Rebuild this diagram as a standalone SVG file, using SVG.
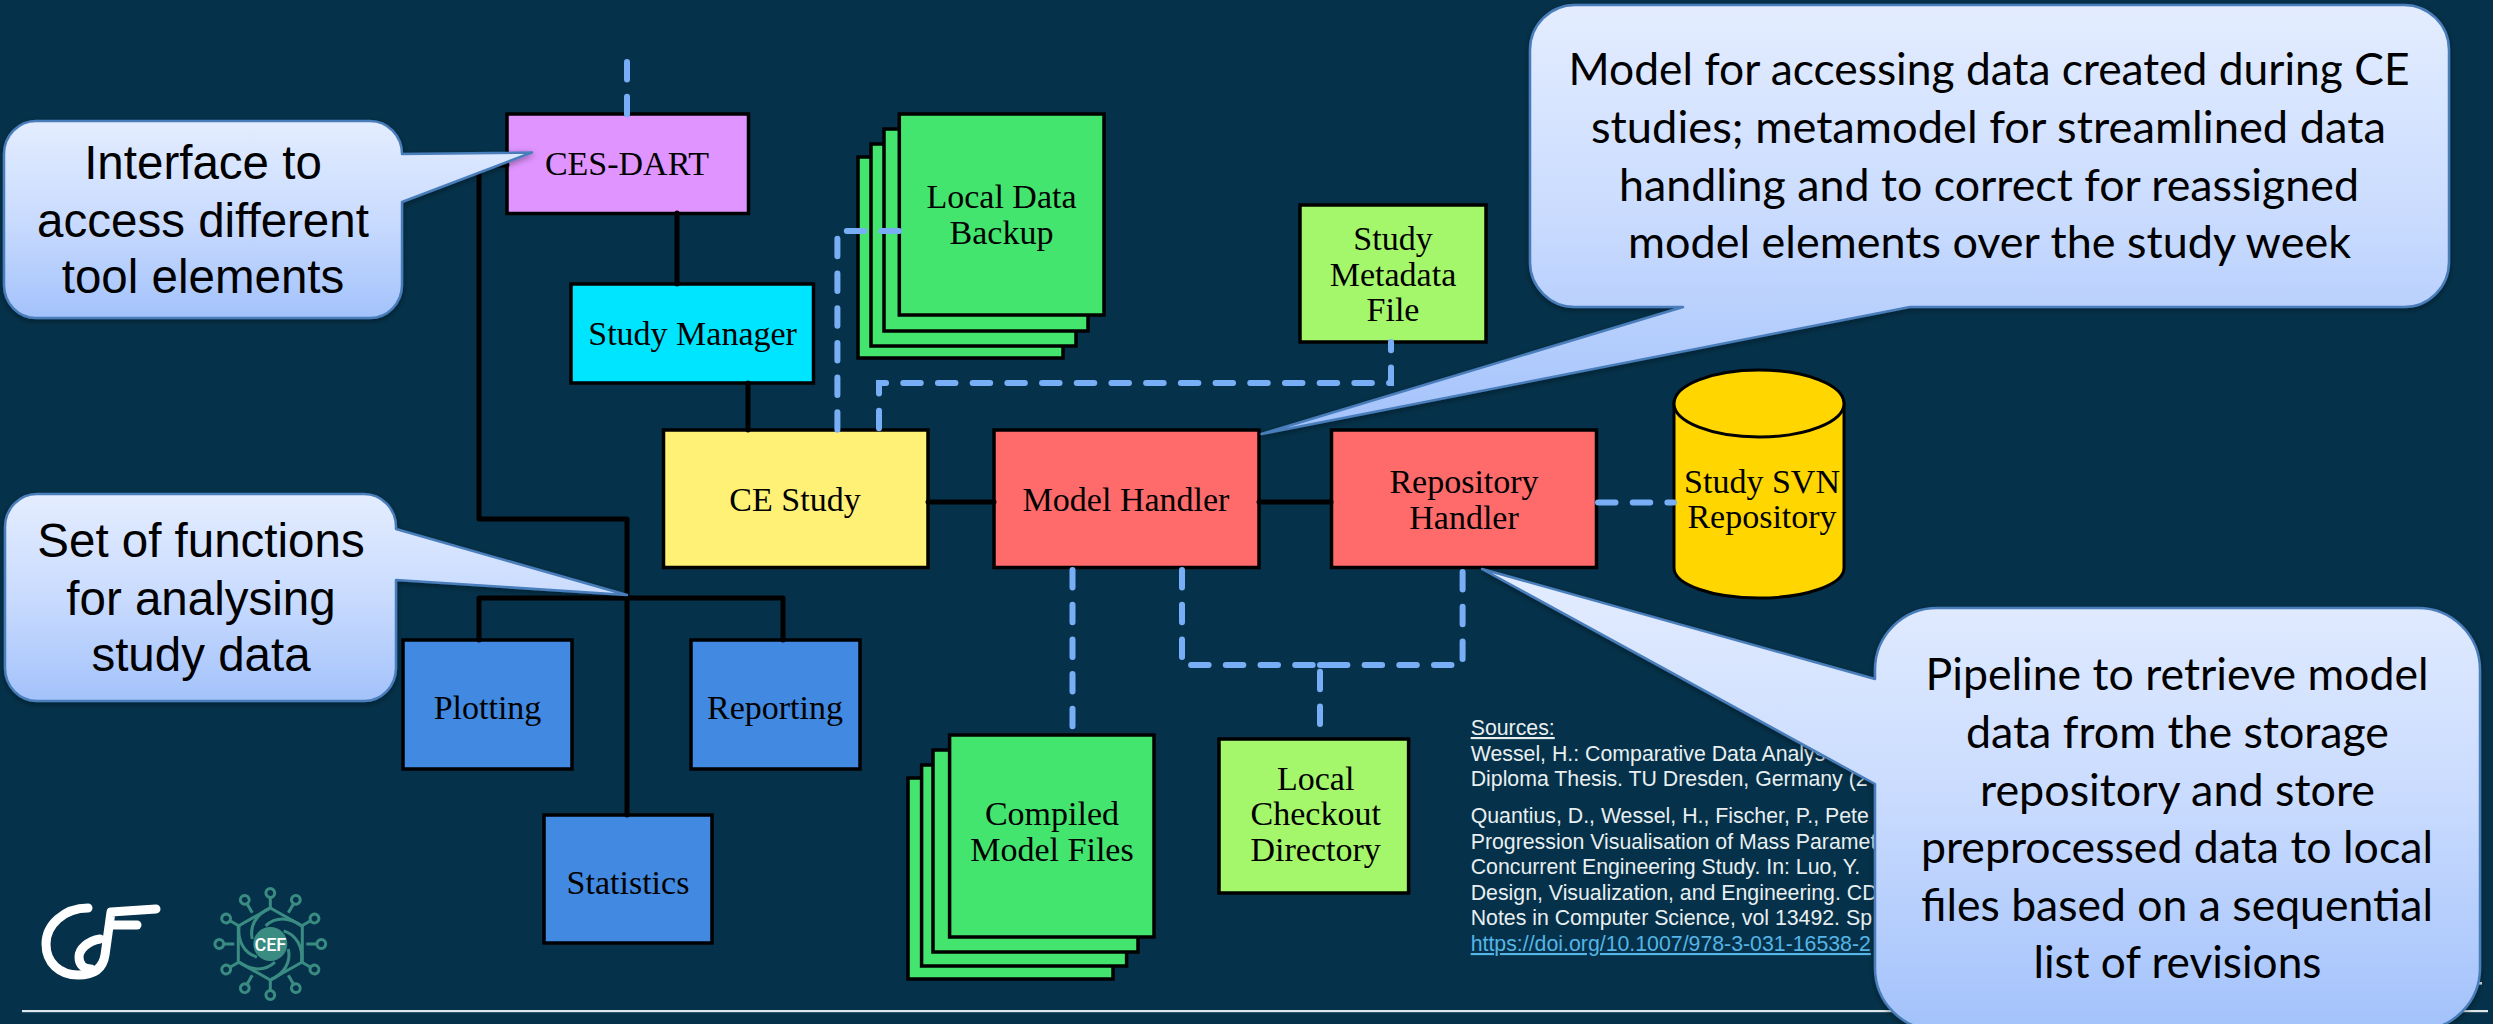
<svg xmlns="http://www.w3.org/2000/svg" xmlns:xlink="http://www.w3.org/1999/xlink" width="2493" height="1024" viewBox="0 0 2493 1024">
<style>
.box{stroke:#000;stroke-width:3.5;stroke-linejoin:miter}
.lbl{font-family:"Liberation Serif","Times New Roman",serif;font-size:34px;fill:#000;text-anchor:middle}
.solid{fill:none;stroke:#000;stroke-width:5;stroke-linejoin:round;stroke-linecap:round}
.dash{fill:none;stroke:#78aef5;stroke-width:6;stroke-linecap:round;stroke-dasharray:17.5 17.2}
.call{fill:url(#cg);stroke:#4a7ebb;stroke-width:2.5;stroke-linejoin:round;filter:url(#sh)}
.ctl{font-family:"Liberation Sans",Arial,sans-serif;font-size:47.5px;fill:#000;text-anchor:middle}
.ctc{font-family:Lato,"Open Sans",sans-serif;font-size:44px;fill:#000;text-anchor:middle}
.src{font-family:"Liberation Sans",Arial,sans-serif;font-size:21.3px;fill:#e9eff1}
.teal{fill:none;stroke:#3a8c82;stroke-width:3}
.g{fill:#43e56f}.lg{fill:#a4f66a}.bl{fill:#4189e1}.rd{fill:#ff6b6b}
</style>
<defs>
<linearGradient id="cg" x1="0" y1="0" x2="0" y2="1"><stop offset="0" stop-color="#e4edff"/><stop offset="0.5" stop-color="#c9dbfe"/><stop offset="1" stop-color="#a3c2fb"/></linearGradient>
<filter id="sh" x="-5%" y="-5%" width="110%" height="112%"><feDropShadow dx="0" dy="2" stdDeviation="3" flood-color="#000" flood-opacity="0.4"/></filter>
</defs>
<rect width="2493" height="1024" fill="#05324a"/>
<rect x="22" y="1010" width="2466" height="2.2" fill="#dde6ea"/>
<rect x="2474" y="982" width="8" height="2.6" fill="#dde6ea"/>

<g id="logo-gf" fill="none" stroke="#fff" stroke-width="9" stroke-linecap="round" stroke-linejoin="round">
<path d="M88 908C64 908 46 925 46 944C46 963 60 975 78 975C94 975 103 968 105 955L111 912L156 909"/>
<path d="M110 925H137"/>
<path d="M100 939C88 941 79 949 79 957C79 965 84 969 91 969"/>
</g>
<g id="logo-cef" transform="translate(270.3 944)">
<defs>
<g id="ring"><circle cx="0" cy="-51" r="4.4" class="teal"/><path d="M0 -46V-36" class="teal"/></g>
<path id="arm" d="M0 -36C-14 -30 -21 -18 -18 -5" class="teal"/>
</defs>
<circle r="17" fill="#3a8c82"/>
<path d="M0 -36L32 -18V18L0 36L-32 18V-18Z" class="teal" stroke-linejoin="round"/>
<use href="#arm"/><use href="#arm" transform="rotate(60)"/><use href="#arm" transform="rotate(120)"/><use href="#arm" transform="rotate(180)"/><use href="#arm" transform="rotate(240)"/><use href="#arm" transform="rotate(300)"/>
<use href="#ring"/><use href="#ring" transform="rotate(30)"/><use href="#ring" transform="rotate(60)"/><use href="#ring" transform="rotate(90)"/><use href="#ring" transform="rotate(120)"/><use href="#ring" transform="rotate(150)"/><use href="#ring" transform="rotate(180)"/><use href="#ring" transform="rotate(210)"/><use href="#ring" transform="rotate(240)"/><use href="#ring" transform="rotate(270)"/><use href="#ring" transform="rotate(300)"/><use href="#ring" transform="rotate(330)"/>
<text x="0" y="6.5" text-anchor="middle" font-family="Roboto,'Liberation Sans',sans-serif" font-weight="500" font-size="18" fill="#fff">CEF</text>
</g>

<g id="sources">
<text class="src" x="1470.7" y="735" text-decoration="underline">Sources:</text>
<text class="src" x="1470.7" y="761">Wessel, H.: Comparative Data Analys</text>
<text class="src" x="1470.7" y="786">Diploma Thesis. TU Dresden, Germany (2</text>
<text class="src" x="1470.7" y="823">Quantius, D., Wessel, H., Fischer, P., Pete</text>
<text class="src" x="1470.7" y="848.5">Progression Visualisation of Mass Paramet</text>
<text class="src" x="1470.7" y="874">Concurrent Engineering Study. In: Luo, Y.</text>
<text class="src" x="1470.7" y="899.5">Design, Visualization, and Engineering. CD</text>
<text class="src" x="1470.7" y="925">Notes in Computer Science, vol 13492. Sp</text>
<text class="src" x="1470.7" y="951" style="fill:#55b5e6" text-decoration="underline">https://doi.org/10.1007/978-3-031-16538-2</text>
</g>

<g id="ces-dart"><rect class="box" x="507" y="114" width="241.5" height="99.5" fill="#df94ff"/><text class="lbl" x="627" y="175">CES-DART</text></g>
<g id="study-manager"><rect class="box" x="571" y="284" width="242.5" height="99" fill="#00e5ff"/><text class="lbl" x="692.6" y="345">Study Manager</text></g>
<g id="ce-study"><rect class="box" x="663.5" y="430" width="264.5" height="137.5" fill="#fff176"/><text class="lbl" x="795" y="511">CE Study</text></g>
<g id="model-handler"><rect class="box rd" x="994" y="430" width="265" height="137.5"/><text class="lbl" x="1126" y="511">Model Handler</text></g>
<g id="repository-handler"><rect class="box rd" x="1331.5" y="430" width="265" height="137.5"/><text class="lbl" x="1464" y="493">Repository</text><text class="lbl" x="1464" y="529">Handler</text></g>
<g id="local-data-backup">
<rect class="box g" x="858" y="157" width="205" height="201"/><rect class="box g" x="871" y="144" width="205" height="202"/><rect class="box g" x="884" y="129" width="204" height="202"/><rect class="box g" x="899.3" y="114" width="204.7" height="201"/>
<text class="lbl" x="1001.5" y="208">Local Data</text><text class="lbl" x="1001.5" y="244">Backup</text></g>
<g id="study-metadata"><rect class="box lg" x="1300" y="205" width="186" height="137"/><text class="lbl" x="1393" y="250">Study</text><text class="lbl" x="1393" y="285.5">Metadata</text><text class="lbl" x="1393" y="321">File</text></g>
<g id="study-svn"><path d="M1674 403.5V568A85 30 0 0 0 1844 568V403.5Z" fill="#ffd600" stroke="#000" stroke-width="3"/><ellipse cx="1759" cy="403.5" rx="85" ry="33.5" fill="#ffd600" stroke="#000" stroke-width="3"/><text class="lbl" x="1762" y="493">Study SVN</text><text class="lbl" x="1762" y="528">Repository</text></g>
<g id="plotting"><rect class="box bl" x="403" y="640" width="169" height="129"/><text class="lbl" x="487.5" y="719">Plotting</text></g>
<g id="reporting"><rect class="box bl" x="691" y="640" width="169" height="129"/><text class="lbl" x="775" y="719">Reporting</text></g>
<g id="statistics"><rect class="box bl" x="544" y="815" width="168" height="128"/><text class="lbl" x="628" y="893.5">Statistics</text></g>
<g id="compiled-model-files">
<rect class="box g" x="908" y="778" width="205" height="201"/><rect class="box g" x="921.6" y="765" width="205" height="201"/><rect class="box g" x="933" y="750" width="205" height="202"/><rect class="box g" x="949.6" y="735" width="204.4" height="202"/>
<text class="lbl" x="1052" y="825">Compiled</text><text class="lbl" x="1052" y="861">Model Files</text></g>
<g id="local-checkout"><rect class="box lg" x="1219" y="739" width="189.6" height="154"/><text class="lbl" x="1315.7" y="790">Local</text><text class="lbl" x="1315.7" y="825">Checkout</text><text class="lbl" x="1315.7" y="861">Directory</text></g>

<g id="connectors">
<path class="solid" d="M507 165H479V519H627V815"/>
<path class="solid" d="M479 640V598H783V640"/>
<path class="solid" d="M677 213V284"/>
<path class="solid" d="M748 383V430"/>
<path class="solid" d="M928 502H994"/>
<path class="solid" d="M1259 502H1331"/>
<path class="dash" d="M627 62V115"/>
<path class="dash" d="M899 231H837.4V430"/>
<path class="dash" style="stroke-dashoffset:9.25" d="M1391 342V383H879V430"/>
<path class="dash" d="M1598 502.5H1674"/>
<path class="dash" d="M1072.5 570V727"/>
<path class="dash" d="M1182 570V665H1462.6V568"/>
<path class="dash" d="M1320 724V665"/>
<path class="dash" d="M1320 665H1338"/>
</g>

<g id="callout-interface"><path class="call" d="M36 121H370A32 33 0 0 1 402 154L532 152.5L402 202V285A32 33 0 0 1 370 318H36A32 33 0 0 1 4 285V154A32 33 0 0 1 36 121Z"/>
<text class="ctl" x="203" y="179">Interface to</text><text class="ctl" x="203" y="236.5">access different</text><text class="ctl" x="203" y="293">tool elements</text></g>
<g id="callout-functions"><path class="call" d="M37 494H364A32 33 0 0 1 396 527V529L627 595L396 580V668A32 33 0 0 1 364 701H37A32 33 0 0 1 5 668V527A32 33 0 0 1 37 494Z"/>
<text class="ctl" x="201" y="557">Set of functions</text><text class="ctl" x="201" y="615">for analysing</text><text class="ctl" x="201" y="671">study data</text></g>
<g id="callout-model"><path class="call" d="M1575 5H2404A45 45 0 0 1 2449 50V262A45 45 0 0 1 2404 307H1910L1261.5 434L1683 307H1575A45 45 0 0 1 1530 262V50A45 45 0 0 1 1575 5Z"/>
<text class="ctc" x="1989" y="85" textLength="841" lengthAdjust="spacingAndGlyphs">Model for accessing data created during CE</text>
<text class="ctc" x="1988.5" y="143" textLength="795" lengthAdjust="spacingAndGlyphs">studies; metamodel for streamlined data</text>
<text class="ctc" x="1989" y="200.5" textLength="740" lengthAdjust="spacingAndGlyphs">handling and to correct for reassigned</text>
<text class="ctc" x="1989.5" y="258" textLength="723" lengthAdjust="spacingAndGlyphs">model elements over the study week</text></g>
<g id="callout-pipeline"><path class="call" d="M1937 608H2418A62 62 0 0 1 2480 670V968A62 62 0 0 1 2418 1030H1937A62 62 0 0 1 1875 968V784L1482 569L1875 679V670A62 62 0 0 1 1937 608Z"/>
<text class="ctc" x="2177" y="690" textLength="503" lengthAdjust="spacingAndGlyphs">Pipeline to retrieve model</text>
<text class="ctc" x="2177.5" y="748" textLength="423" lengthAdjust="spacingAndGlyphs">data from the storage</text>
<text class="ctc" x="2177.5" y="805.5" textLength="395" lengthAdjust="spacingAndGlyphs">repository and store</text>
<text class="ctc" x="2177" y="863" textLength="512" lengthAdjust="spacingAndGlyphs">preprocessed data to local</text>
<text class="ctc" x="2177" y="920.5" textLength="512" lengthAdjust="spacingAndGlyphs">files based on a sequential</text>
<text class="ctc" x="2177.5" y="978" textLength="288" lengthAdjust="spacingAndGlyphs">list of revisions</text></g>
</svg>
